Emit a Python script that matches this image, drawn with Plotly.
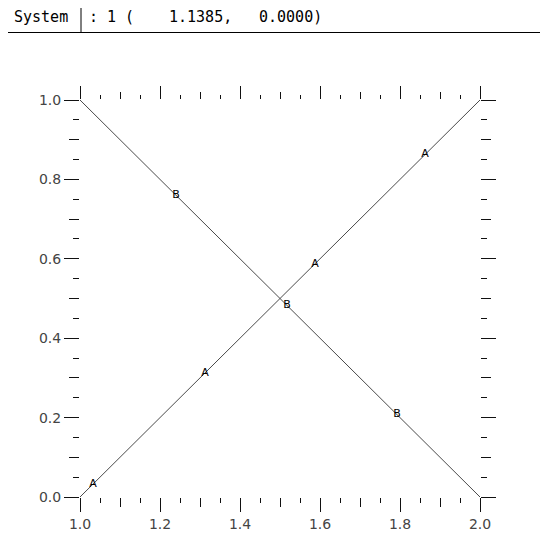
import plotly.graph_objects as go

# series A and B (straight lines) and their letter markers
line_a_x = [1.0, 2.0]
line_a_y = [0.0, 1.0]
line_b_x = [1.0, 2.0]
line_b_y = [1.0, 0.0]

label_a_x = [1.0325, 1.3125, 1.5875, 1.8625]
label_a_y = [0.0325, 0.3125, 0.5875, 0.8625]
label_b_x = [1.24, 1.5175, 1.7925]
label_b_y = [0.76, 0.4825, 0.2075]

header_name = "System"
header_parts = [": 1 (", "1.1385,", "0.0000)"]

LINE_COLOR = "#4a4a4a"
TICK_COLOR = "#111111"
FONT = "DejaVu Sans"

fig = go.Figure()

fig.add_trace(go.Scatter(x=line_a_x, y=line_a_y, mode="lines",
                         line=dict(color=LINE_COLOR, width=1), hoverinfo="skip"))
fig.add_trace(go.Scatter(x=line_b_x, y=line_b_y, mode="lines",
                         line=dict(color=LINE_COLOR, width=1), hoverinfo="skip"))
fig.add_trace(go.Scatter(x=label_a_x, y=label_a_y, mode="text", text=["A"] * len(label_a_x),
                         textposition="middle center",
                         textfont=dict(family=FONT, size=11, color="#000000")))
fig.add_trace(go.Scatter(x=label_b_x, y=label_b_y, mode="text", text=["B"] * len(label_b_x),
                         textposition="middle center",
                         textfont=dict(family=FONT, size=11, color="#000000")))


def tick_axis(side, dtick, ticklen, labels=False, minor_len=None, overlay=None, rng=(1, 2)):
    ax = dict(
        range=list(rng), side=side, dtick=dtick, tick0=rng[0], ticks="outside",
        ticklen=ticklen, tickwidth=1, tickcolor=TICK_COLOR,
        showgrid=False, zeroline=False, showline=False,
        showticklabels=labels, tickformat=".1f", fixedrange=True,
        tickfont=dict(family=FONT, size=14, color="#444444"),
    )
    if minor_len:
        ax["minor"] = dict(dtick=0.05, tick0=rng[0], ticks="outside", ticklen=minor_len,
                           tickwidth=1, tickcolor=TICK_COLOR, showgrid=False)
    if overlay:
        ax["overlaying"] = overlay
    return ax


fig.update_layout(
    width=548, height=536,
    margin=dict(l=72, r=76, t=92, b=47),
    paper_bgcolor="white", plot_bgcolor="white",
    showlegend=False,
    xaxis=tick_axis("bottom", 0.2, 14, labels=True, minor_len=5),
    xaxis2=tick_axis("bottom", 0.1, 9, overlay="x"),
    xaxis3=tick_axis("top", 0.2, 13, minor_len=4, overlay="x"),
    xaxis4=tick_axis("top", 0.1, 7, overlay="x"),
    yaxis=tick_axis("left", 0.2, 15, labels=True, minor_len=6, rng=(0, 1)),
    yaxis2=tick_axis("left", 0.1, 10, overlay="y", rng=(0, 1)),
    yaxis3=tick_axis("right", 0.2, 15, minor_len=6, overlay="y", rng=(0, 1)),
    yaxis4=tick_axis("right", 0.1, 10, overlay="y", rng=(0, 1)),
)

# invisible anchor traces so overlay axes are drawn
for xa, ya in [("x2", "y"), ("x3", "y"), ("x4", "y"), ("x", "y2"), ("x", "y3"), ("x", "y4")]:
    fig.add_trace(go.Scatter(x=[None], y=[None], xaxis=xa, yaxis=ya, hoverinfo="skip"))

# header bar
hdr_font = dict(family="DejaVu Sans Mono", size=15, color="#000000")
fig.add_annotation(text=header_name, xref="paper", yref="paper", x=-0.17, y=1.208,
                   xanchor="left", yanchor="middle", showarrow=False, font=hdr_font)
for txt, px in zip(header_parts, [87, 167, 257]):
    fig.add_annotation(text=txt, xref="paper", yref="paper", x=(px - 80) / 400, y=1.208,
                       xanchor="left", yanchor="middle", showarrow=False, font=hdr_font)
fig.add_shape(type="line", xref="paper", yref="paper", x0=-0.18, x1=1.2, y0=1.170, y1=1.170,
              line=dict(color="#000000", width=1))
fig.add_shape(type="line", xref="paper", yref="paper", x0=0.0025, x1=0.0025, y0=1.170, y1=1.240,
              line=dict(color="#000000", width=1))

fig.write_html("out.html")
